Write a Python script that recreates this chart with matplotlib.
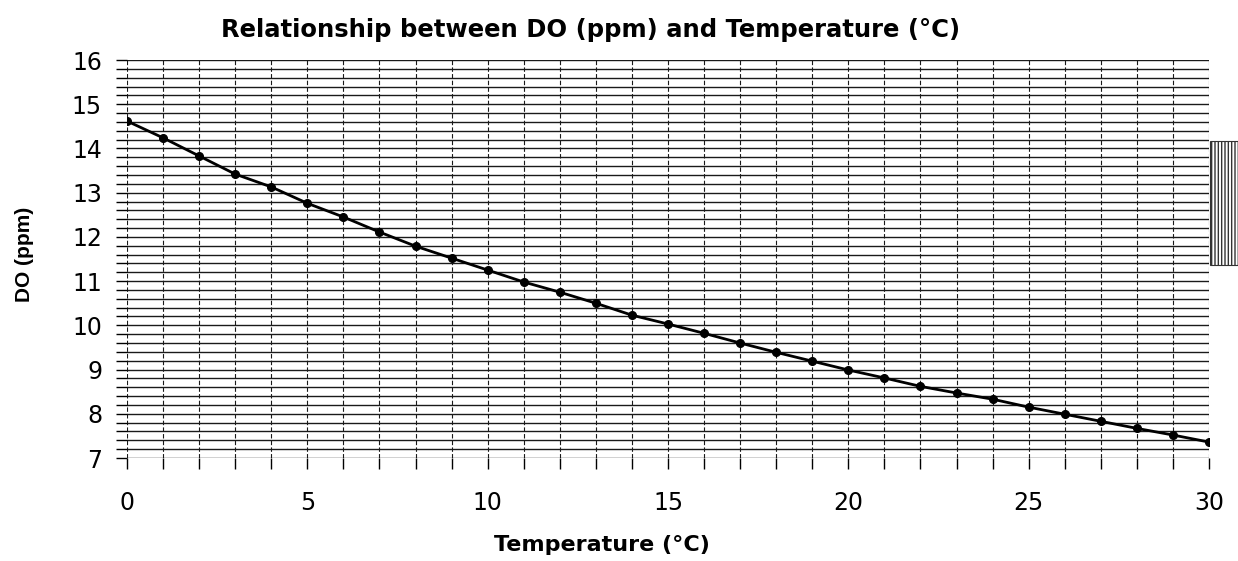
import matplotlib
matplotlib.use("Agg")
import matplotlib.pyplot as plt
from matplotlib.patches import Rectangle
from matplotlib.ticker import MultipleLocator

plt.rcParams['font.family'] = ['DejaVu Sans']

# values
temperature = list(range(0, 31))
dissolved_oxygen = [14.62, 14.24, 13.83, 13.42, 13.13, 12.76, 12.45, 12.11, 11.79, 11.52,
                    11.25, 10.98, 10.75, 10.50, 10.23, 10.03, 9.82, 9.60, 9.39, 9.19,
                    8.99, 8.81, 8.62, 8.47, 8.33, 8.15, 7.99, 7.83, 7.67, 7.52, 7.36]
x_ticks = [0, 5, 10, 15, 20, 25, 30]
y_ticks = [7, 8, 9, 10, 11, 12, 13, 14, 15, 16]

fig = plt.figure(figsize=(12.38, 5.61), dpi=100)
ax = fig.add_axes([0.1026, 0.1836, 0.8740, 0.7094])

ax.plot(temperature, dissolved_oxygen, color='black', lw=2, marker='o', ms=5.5, zorder=5)

ax.set_xlim(0, 30)
ax.set_ylim(7, 16)
ax.set_xticks(x_ticks)
ax.set_yticks(y_ticks)
ax.xaxis.set_minor_locator(MultipleLocator(1))
ax.yaxis.set_minor_locator(MultipleLocator(0.2))

# grid: solid horizontals every 0.2, dashed verticals every degree
ax.grid(which='both', axis='y', color='#1a1a1a', lw=1.0, ls='-')
ax.grid(which='both', axis='x', color='#1a1a1a', lw=0.8, ls=(0, (4, 2)))

for s in ax.spines.values():
    s.set_visible(False)

ax.tick_params(which='both', direction='out', length=8, width=1, color='black')
ax.tick_params(axis='x', which='major', labelsize=17, pad=16)
ax.tick_params(axis='y', which='major', labelsize=17, pad=10)

# axis titles placed where the scan has them
fig.text(25 / 1238, 1 - 254 / 561, 'DO (ppm)', rotation=90, ha='center', va='center',
         fontsize=15, fontweight='bold', family=['Liberation Sans', 'DejaVu Sans'])
fig.text(602 / 1238, 1 - 545 / 561, 'Temperature (°C)', ha='center', va='center',
         fontsize=16, fontweight='bold')
fig.text(591 / 1238, 1 - 30 / 561, 'Relationship between DO (ppm) and Temperature (°C)',
         ha='center', va='center', fontsize=17.5, fontweight='bold')

# scan artefact on the right edge
fig.add_artist(Rectangle((1210 / 1238, 1 - 265 / 561), 28 / 1238, 124 / 561,
                         transform=fig.transFigure, facecolor='white',
                         edgecolor='#333333', hatch='|||||', lw=0.8))

fig.savefig('out.png', dpi=100)
